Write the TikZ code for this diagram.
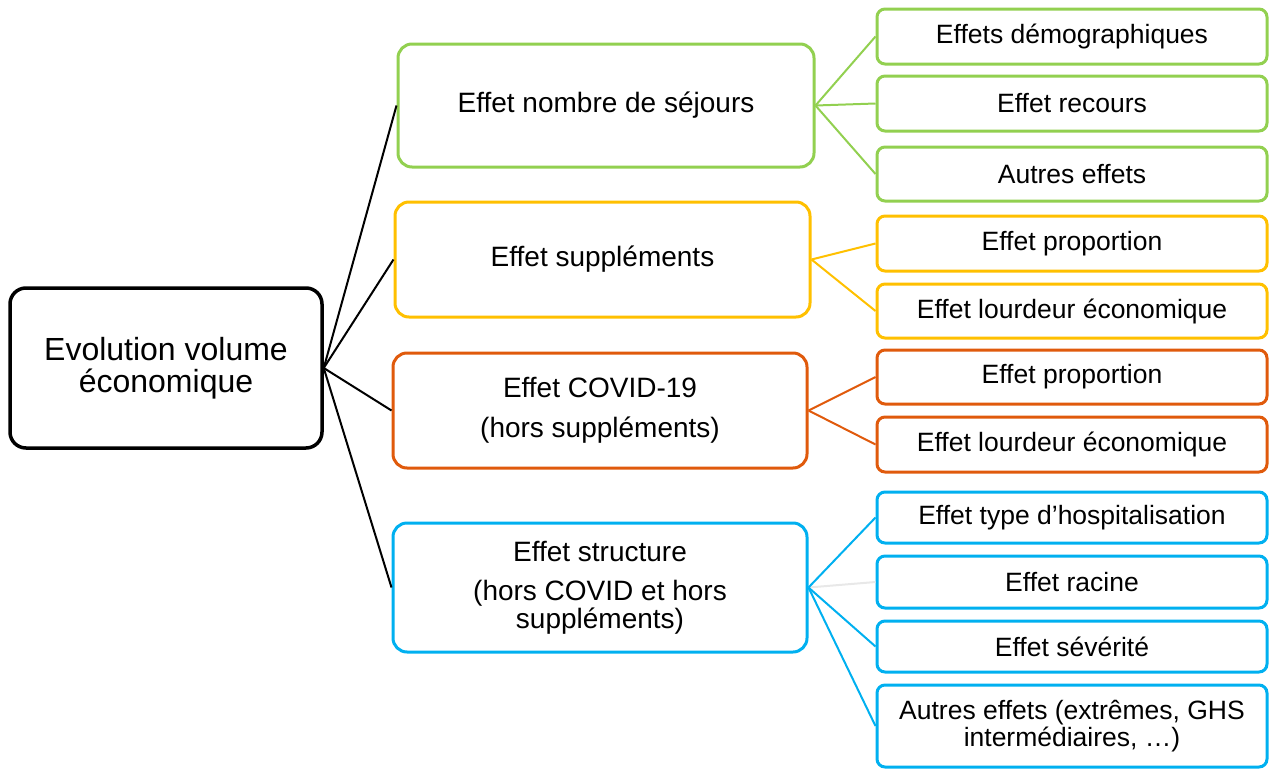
\documentclass[tikz,border=0pt]{standalone}
\usepackage{fontspec}
\setmainfont{Liberation Sans}
\definecolor{cgreen}{HTML}{92D050}
\definecolor{cyellow}{HTML}{FFC000}
\definecolor{corange}{HTML}{E05A0C}
\definecolor{cblue}{HTML}{00B0F0}
\definecolor{cfaint}{HTML}{E8E8E8}
\begin{document}
\begin{tikzpicture}[x=1pt,y=-1pt,
  anybox/.style={draw, line width=3pt, fill=white, inner sep=0pt, align=center, text=black},
  rootbox/.style={anybox, rounded corners=16pt, line width=3.5pt, font=\fontsize{32}{32}\selectfont},
  mainbox/.style={anybox, rounded corners=14pt, font=\fontsize{28}{28}\selectfont},
  childbox/.style={anybox, rounded corners=8pt, minimum width=390, font=\fontsize{26.5}{27}\selectfont},
  link/.style={line width=2pt}
]
\useasboundingbox (0,0) rectangle (1269,771);

% root
\node[rootbox, minimum width=312, minimum height=160] (root) at (166,368) {Evolution volume\\économique};

% main boxes
\node[mainbox, draw=cgreen, minimum width=416, minimum height=123] (mg) at (606,105.5) {Effet nombre de séjours};
\node[mainbox, draw=cyellow, minimum width=415, minimum height=115] (my) at (602.5,259.5) {Effet suppléments};
\node[mainbox, draw=corange, minimum width=414, minimum height=115] (mo) at (600,410.5) {Effet COVID-19\\[12pt](hors suppléments)};
\node[mainbox, draw=cblue, minimum width=414, minimum height=129] (mb) at (600,587.5) {Effet structure\\[11pt](hors COVID et hors\\suppléments)};

% children
\node[childbox, draw=cgreen, minimum height=55] (g1) at (1072,36.5) {Effets démographiques};
\node[childbox, draw=cgreen, minimum height=55] (g2) at (1072,103.5) {Effet recours};
\node[childbox, draw=cgreen, minimum height=54] (g3) at (1072,174) {Autres effets};
\node[childbox, draw=cyellow, minimum height=55] (y1) at (1072,243.5) {Effet proportion};
\node[childbox, draw=cyellow, minimum height=54] (y2) at (1072,311) {Effet lourdeur économique};
\node[childbox, draw=corange, minimum height=54] (o1) at (1072,377) {Effet proportion};
\node[childbox, draw=corange, minimum height=55] (o2) at (1072,444.5) {Effet lourdeur économique};
\node[childbox, draw=cblue, minimum height=51] (b1) at (1072,517.5) {Effet type d’hospitalisation};
\node[childbox, draw=cblue, minimum height=52] (b2) at (1072,582) {Effet racine};
\node[childbox, draw=cblue, minimum height=51] (b3) at (1072,646.5) {Effet sévérité};
\node[childbox, draw=cblue, minimum height=82] (b4) at (1072,726) {Autres effets (extrêmes, GHS\\intermédiaires, …)};

% root connectors
\foreach \m in {mg,my,mo,mb} \draw[link, black] (root.east) -- (\m.west);
% green
\foreach \c in {g1,g2,g3} \draw[link, cgreen] (mg.east) -- (\c.west);
% yellow
\foreach \c in {y1,y2} \draw[link, cyellow] (my.east) -- (\c.west);
% orange
\foreach \c in {o1,o2} \draw[link, corange] (mo.east) -- (\c.west);
% blue
\draw[link, cfaint] (mb.east) -- (b2.west);
\foreach \c in {b1,b3,b4} \draw[link, cblue] (mb.east) -- (\c.west);
\end{tikzpicture}
\end{document}
